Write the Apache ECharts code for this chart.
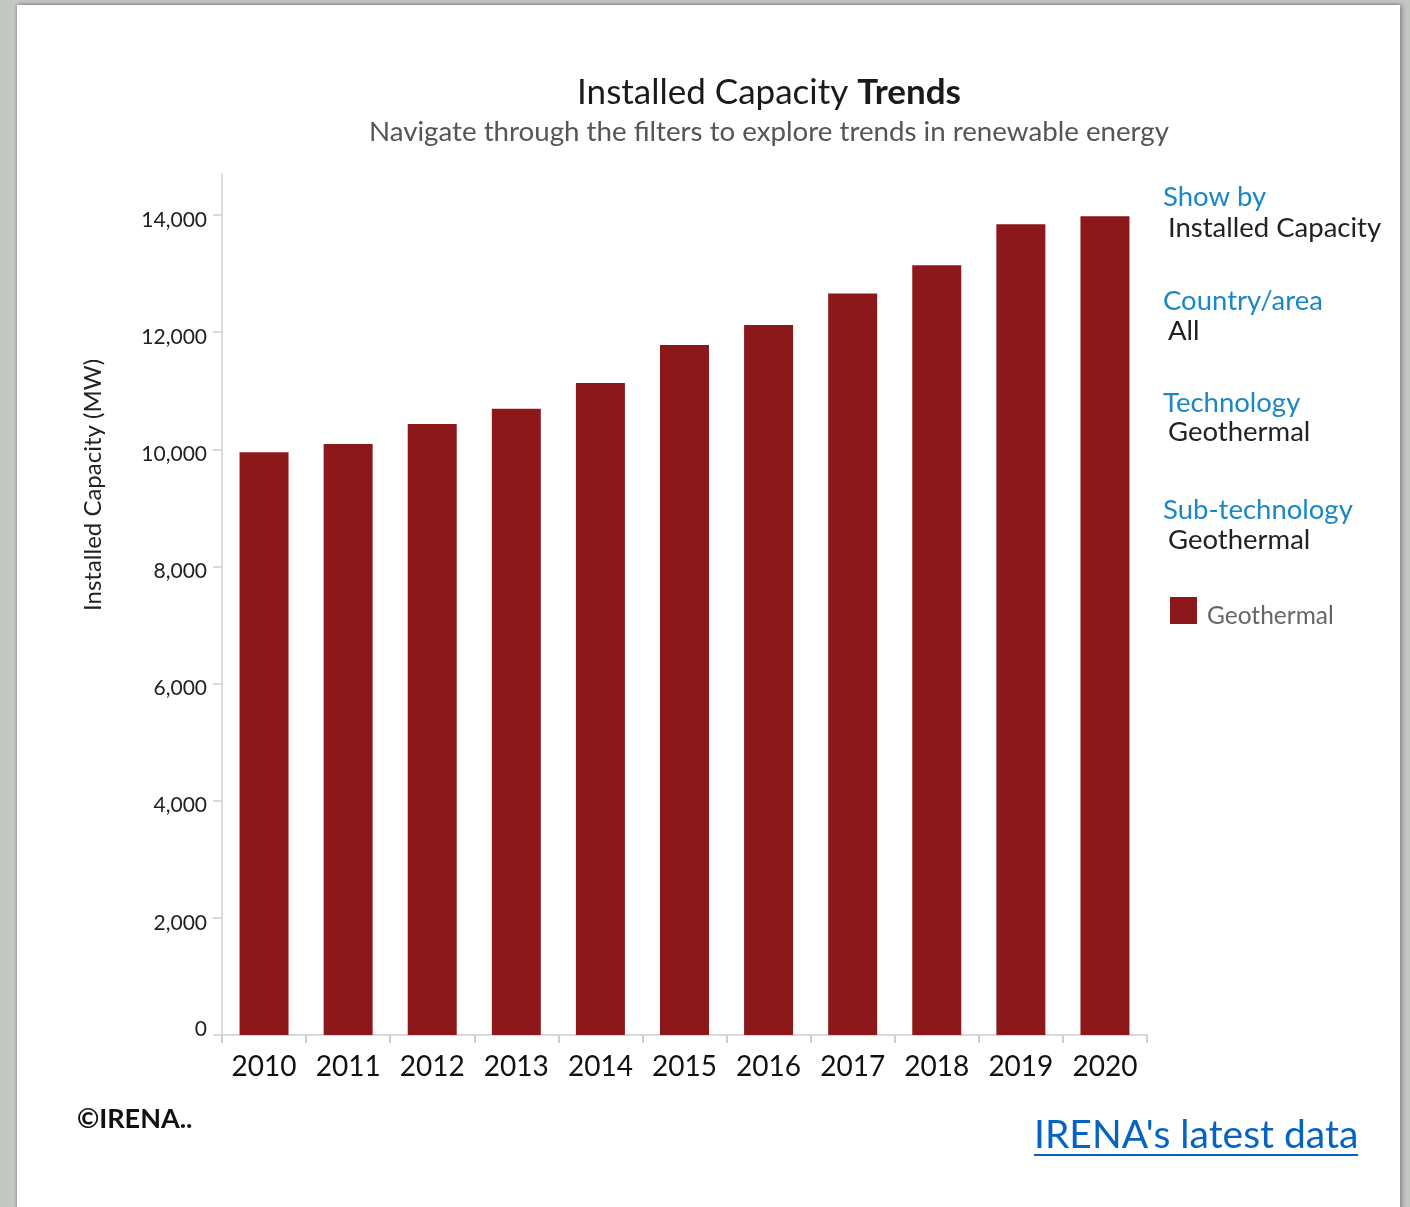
<!DOCTYPE html>
<html>
<head>
<meta charset="utf-8">
<title>Installed Capacity Trends</title>
<script src="https://cdn.jsdelivr.net/npm/echarts@6/dist/echarts.min.js"></script>
<style>
  html, body { margin: 0; padding: 0; width: 1410px; height: 1207px; overflow: hidden; background: #c5c7c5; }
  #sheet { position: absolute; left: 17px; top: 5px; width: 1383px; height: 1210px; background: #ffffff;
           box-shadow: 2px 0 5px rgba(0,0,0,0.35), -1px -1px 2px rgba(0,0,0,0.15); }
  #chart { position: absolute; left: 0; top: 0; width: 1410px; height: 1207px; }
</style>
</head>
<body>
<div id="sheet"></div>
<div id="chart"></div>
<script>
// Installed geothermal capacity, all countries (MW)
const years = ['2010', '2011', '2012', '2013', '2014', '2015', '2016', '2017', '2018', '2019', '2020'];
const capacity = [9950, 10090, 10430, 10690, 11130, 11780, 12120, 12660, 13140, 13840, 13980];
const yTicks = [0, 2000, 4000, 6000, 8000, 10000, 12000, 14000];

const FONT = 'Lato, "Open Sans", sans-serif';
const BAR = '#8c181b';
const BLUE = '#1b87c4';

const chart = echarts.init(document.getElementById('chart'), null, { renderer: 'canvas' });

function txt(x, y, text, size, color, extra) {
  return {
    type: 'text', x: x, y: y,
    style: Object.assign({
      text: text, fill: color, font: size + 'px ' + FONT,
      textAlign: 'left', textVerticalAlign: 'middle'
    }, extra || {})
  };
}

chart.setOption({
  backgroundColor: 'transparent',
  animation: false,
  grid: { left: 222, top: 174, width: 925, bottom: 172, containLabel: false },
  legend: {
    left: 1170, top: 597, orient: 'vertical', padding: 0,
    icon: 'rect', itemWidth: 27, itemHeight: 27, itemGap: 10,
    formatter: '{g|{name}}',
    textStyle: {
      color: '#666666', fontSize: 24.5, fontFamily: FONT,
      rich: { g: { color: '#666666', fontSize: 24.5, fontFamily: FONT, padding: [12, 0, 0, 5] } }
    },
    data: ['Geothermal']
  },
  xAxis: {
    type: 'category',
    data: years,
    axisLine: { lineStyle: { color: '#d9d9d9', width: 2 } },
    axisTick: { show: true, length: 8, lineStyle: { color: '#d0d0d0', width: 2 } },
    axisLabel: { color: '#111111', fontSize: 28, fontFamily: FONT, margin: 18, interval: 0 }
  },
  yAxis: {
    type: 'value',
    min: 0, max: 14700,
    axisLine: { show: true, lineStyle: { color: '#dcdcdc', width: 2 } },
    axisTick: { show: true, length: 9, customValues: yTicks, lineStyle: { color: '#d9d9d9', width: 2 } },
    axisLabel: {
      customValues: yTicks, color: '#222222', fontSize: 21, fontFamily: FONT, margin: 15,
      formatter: v => (v === 0 ? '{z|0}' : '{n|' + v.toLocaleString('en-US') + '}'),
      rich: {
        n: { fontSize: 21, fontFamily: FONT, color: '#222222', padding: [10, 0, 0, 0] },
        z: { fontSize: 21, fontFamily: FONT, color: '#222222', padding: [0, 0, 12, 0] }
      }
    },
    splitLine: { show: false }
  },
  series: [{
    name: 'Geothermal',
    type: 'bar',
    data: capacity,
    barWidth: 49,
    itemStyle: { color: BAR }
  }],
  graphic: [
    {
      type: 'text', x: 769, y: 93,
      style: {
        text: '{a|Installed Capacity }{b|Trends}',
        textAlign: 'center', textVerticalAlign: 'middle',
        rich: {
          a: { fontSize: 35, fontFamily: FONT, fill: '#1a1a1a', color: '#1a1a1a' },
          b: { fontSize: 35, fontFamily: FONT, fontWeight: 'bold', fill: '#1a1a1a', color: '#1a1a1a' }
        }
      }
    },
    txt(769, 132, 'Navigate through the filters to explore trends in renewable energy', 27.7, '#555555', { textAlign: 'center' }),
    {
      type: 'text', x: 93, y: 485, rotation: Math.PI / 2,
      style: { text: 'Installed Capacity (MW)', fill: '#222222', font: '24px ' + FONT, textAlign: 'center', textVerticalAlign: 'middle' }
    },
    txt(1163, 197, 'Show by', 27.5, BLUE),
    txt(1168, 228, 'Installed Capacity', 27.5, '#222222'),
    txt(1163, 301, 'Country/area', 27.5, BLUE),
    txt(1168, 331, 'All', 27.5, '#222222'),
    txt(1163, 403, 'Technology', 27.5, BLUE),
    txt(1168, 432, 'Geothermal', 27.5, '#222222'),
    txt(1163, 510, 'Sub-technology', 27.5, BLUE),
    txt(1168, 540, 'Geothermal', 27.5, '#222222'),
    txt(77, 1119, '\u00A9IRENA..', 27, '#111111', { font: 'bold 27px ' + FONT }),
    txt(1034, 1135, "IRENA's latest data", 39, '#0563c1'),
    { type: 'rect', shape: { x: 1034, y: 1154, width: 324, height: 2 }, style: { fill: '#0563c1' } }
  ]
});
</script>
</body>
</html>
